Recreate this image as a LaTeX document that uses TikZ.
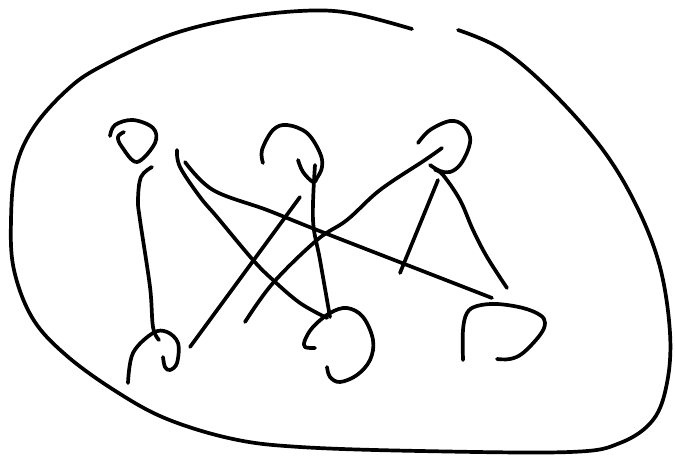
\documentclass[tikz,border=0pt]{standalone}
\begin{document}
\begin{tikzpicture}[x=1pt,y=-1pt,
  stroke/.style={draw=black,line width=3.7pt,line cap=round,line join=round}]
\useasboundingbox (0,0) rectangle (675,457);
% outer boundary
\draw[stroke] plot[smooth,tension=0.6] coordinates {(458,30) (503,50) (553,93) (603,150) (637,207) (660,267) (670,333) (667,383) (653,420) (620,443) (570,452) (420,451) (300,447) (233,439) (167,419) (117,392) (67,356) (33,319) (14,270) (11,220) (16,167) (34,127) (67,90) (100,67) (167,36) (233,19) (300,11) (350,13) (412,29)};
% node A
\draw[stroke] plot[smooth,tension=0.6] coordinates {(110,136) (115,125) (133,120) (153,128) (155,143) (137,162) (122,147) (118,137) (124,132)};
% node B
\draw[stroke] plot[smooth,tension=0.6] coordinates {(263,163) (262,150) (273,130) (287,125) (307,133) (320,153) (322,167) (317,178) (313,182) (303,172) (298,160)};
% node C
\draw[stroke] plot[smooth,tension=0.6] coordinates {(418,143) (430,130) (450,121) (463,125) (470,137) (468,150) (460,165) (450,172) (440,171) (430,165)};
% node D
\draw[stroke] plot[smooth,tension=0.6] coordinates {(128,383) (133,353) (153,333) (167,332) (178,343) (177,363) (170,370) (165,367) (163,357)};
% node E
\draw[stroke] plot[smooth,tension=0.6] coordinates {(315,348) (305,347) (305,340) (313,327) (330,313) (347,308) (363,317) (373,340) (370,360) (357,375) (340,382) (330,377) (327,367)};
% node F
\draw[stroke] plot[smooth,tension=0.6] coordinates {(463,360) (463,330) (467,313) (477,306) (497,304) (523,308) (540,315) (545,323) (540,335) (523,353) (510,359) (497,359)};
% edges
\draw[stroke] plot[smooth,tension=0.6] coordinates {(152,167) (141,177) (138,200) (140,220) (150,287) (153,327) (159,340)};
\draw[stroke] (190,347) -- (300,197);
\draw[stroke] plot[smooth,tension=0.6] coordinates {(315,165) (313,220) (320,260) (330,317)};
\draw[stroke] plot[smooth,tension=0.6] coordinates {(177,150) (180,167) (200,197) (217,217) (253,260) (273,280) (300,303) (327,318)};
\draw[stroke] plot[smooth,tension=0.6] coordinates {(185,162) (213,190) (267,210) (317,230) (420,270) (492,298)};
\draw[stroke] plot[smooth,tension=0.6] coordinates {(442,148) (425,160) (380,190) (347,220) (317,240) (273,283) (245,322)};
\draw[stroke] plot[smooth,tension=0.6] coordinates {(435,170) (443,175) (460,200) (473,230) (487,257) (507,288)};
\draw[stroke] (438,180) -- (400,273);
\end{tikzpicture}
\end{document}
